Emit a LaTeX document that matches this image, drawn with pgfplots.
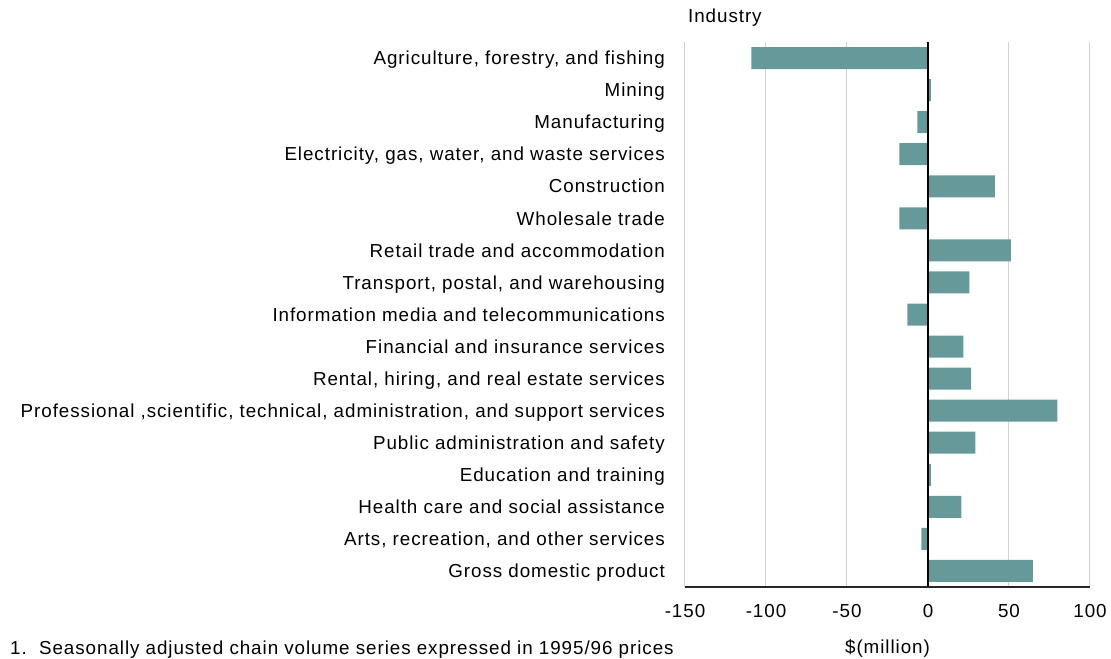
\documentclass[border=0pt]{standalone}
\usepackage{fontspec}
\setmainfont[LetterSpace=5.0]{Liberation Sans}
\usepackage{pgfplots}
\pgfplotsset{compat=1.18}
\definecolor{barteal}{RGB}{102,153,153}
\definecolor{gridgray}{RGB}{210,210,210}

\begin{document}
\begin{tikzpicture}[font=\fontsize{18.8bp}{22bp}\selectfont]
\useasboundingbox (-685bp,-72bp) rectangle (426bp,587bp);
\begin{axis}[
  at={(0,0)}, anchor=south west,
  scale only axis, width=405bp, height=545bp,
  xmin=-150, xmax=100, ymin=-0.5, ymax=16.5, y dir=reverse,
  xtick={-150,-100,...,100},
  ytick={0,...,16},
  yticklabels={
    {Agriculture, forestry, and fishing},
    {Mining},
    {Manufacturing},
    {Electricity, gas, water, and waste services},
    {Construction},
    {Wholesale trade},
    {Retail trade and accommodation},
    {Transport, postal, and warehousing},
    {Information media and telecommunications},
    {Financial and insurance services},
    {Rental, hiring, and real estate services},
    {Professional ,scientific, technical, administration, and support services},
    {Public administration and safety},
    {Education and training},
    {Health care and social assistance},
    {Arts, recreation, and other services},
    {Gross domestic product}},
  xmajorgrids, grid style={gridgray, line width=1bp},
  axis x line*=bottom, axis y line*=left,
  y axis line style={draw=none},
  x axis line style={black!85, line width=1.2bp, -},
  major tick length=0pt,
  yticklabel style={anchor=east, inner sep=0pt, xshift=-20bp,
    text height=13.4bp, text depth=0bp},
  xticklabel style={anchor=north, inner sep=0pt, yshift=-17bp},
  /pgf/number format/assume math mode=true,
  xlabel={\$(million)},
  xlabel style={at={(axis description cs:0.5,0)}, anchor=center, yshift=-61bp},
  clip=false,
]
% change by industry
\addplot[xbar, bar width=22bp, fill=barteal, draw=none]
  coordinates {
    (-109,0) (1.8,1) (-6.5,2) (-17.6,3) (41.3,4) (-17.6,5)
    (51.2,6) (25.5,7) (-12.7,8) (21.8,9) (26.7,10) (79.8,11)
    (29.2,12) (1.8,13) (20.6,14) (-4.1,15) (64.7,16)
  };
% zero line
\addplot[black, line width=1.3bp, forget plot]
  coordinates {(0,-0.5) (0,16.5)};
\node[anchor=west, inner sep=0pt] at (axis description cs:0,1) [xshift=3bp, yshift=24bp] {Industry};
\end{axis}
\node[anchor=base west, inner sep=0pt] at (-675bp,-67.5bp)
  {1.\ \ Seasonally adjusted chain volume series expressed in 1995/96 prices};
\end{tikzpicture}
\end{document}
